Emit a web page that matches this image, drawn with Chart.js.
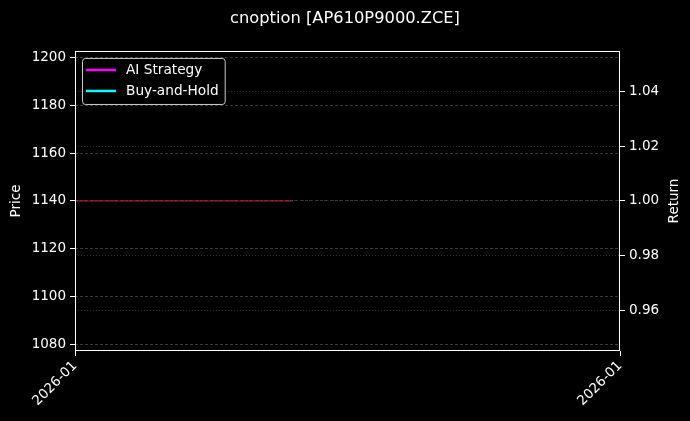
<!DOCTYPE html>
<html><head><meta charset="utf-8">
<script src="https://cdn.jsdelivr.net/npm/chart.js@4.4.1/dist/chart.umd.min.js"></script>
<style>html,body{margin:0;padding:0;background:#000;}#wrap{width:690px;height:421px;position:relative;}</style>
</head><body><div id="wrap"><canvas id="c" width="690" height="421"></canvas></div>
<script>
const chartTitle = 'cnoption [AP610P9000.ZCE]';
const xTickLabels = ['2026-01', '2026-01'];
const xDomain = [0, 5];
const priceX = [0, 2];
const priceValues = [1140, 1140];
const returnX = [0];
const strategyReturn = [1.0];
const buyHoldReturn = [1.0];
const priceRange = [1077.3, 1202.7];
const returnRange = [0.945, 1.055];
const priceTicks = [1080, 1100, 1120, 1140, 1160, 1180, 1200];
const returnTicks = [0.96, 0.98, 1.00, 1.02, 1.04];
const seriesNames = ['AI Strategy', 'Buy-and-Hold', 'Price'];
const axisTitles = ['Price', 'Return'];

const FONT = 'DejaVu Sans';
Chart.defaults.font.family = FONT;
Chart.defaults.color = '#ffffff';

const framePlugin = {
  id: 'frame',
  afterDraw(chart) {
    const {ctx, chartArea: a} = chart;
    ctx.save();
    ctx.strokeStyle = '#ffffff';
    ctx.lineWidth = 1;
    ctx.setLineDash([]);
    ctx.strokeRect(Math.round(a.left) + 0.5, Math.round(a.top) + 0.5, Math.round(a.right - a.left) - 1, Math.round(a.bottom - a.top) - 1);
    // right axis title, rotated like the left one (reads bottom to top)
    const s = chart.scales.y1;
    ctx.font = '13.5px "' + FONT + '"';
    ctx.fillStyle = '#ffffff';
    ctx.textAlign = 'center';
    ctx.textBaseline = 'middle';
    ctx.translate(s.right - 16, (a.top + a.bottom) / 2);
    ctx.rotate(-Math.PI / 2);
    ctx.fillText(axisTitles[1], 0, 0);
    ctx.restore();
  }
};

const innerLegend = {
  id: 'innerLegend',
  afterDraw(chart) {
    const {ctx, chartArea: a} = chart;
    const items = chart.data.datasets.filter(d => d.inLegend);
    ctx.save();
    ctx.font = '13.7px "' + FONT + '"';
    let tw = 0;
    items.forEach(d => { tw = Math.max(tw, ctx.measureText(d.label).width); });
    const x0 = a.left + 7, y0 = a.top + 7;
    const rowH = 21, lineLen = 30;
    const w = 4 + lineLen + 10 + tw + 6;
    const h = items.length * rowH + 4;
    ctx.beginPath();
    ctx.roundRect(x0 + 0.5, y0 + 0.5, w, h, 3);
    ctx.fillStyle = 'rgba(0,0,0,0.8)';
    ctx.fill();
    ctx.strokeStyle = '#cccccc';
    ctx.lineWidth = 1;
    ctx.stroke();
    items.forEach((d, i) => {
      const cy = y0 + 12 + i * rowH;
      ctx.beginPath();
      ctx.moveTo(x0 + 4, cy);
      ctx.lineTo(x0 + 4 + lineLen, cy);
      ctx.strokeStyle = d.borderColor;
      ctx.lineWidth = 2.5;
      ctx.stroke();
      ctx.fillStyle = '#ffffff';
      ctx.textBaseline = 'middle';
      ctx.textAlign = 'left';
      ctx.fillText(d.label, x0 + 4 + lineLen + 10, cy);
    });
    ctx.restore();
  }
};

const tickFont = {family: FONT, size: 13.5};

new Chart(document.getElementById('c'), {
  type: 'line',
  data: {
    datasets: [
      {label: seriesNames[0], inLegend: true, data: returnX.map((x, i) => ({x, y: strategyReturn[i]})), borderColor: '#ff00ff', borderWidth: 2, pointRadius: 0, yAxisID: 'y1'},
      {label: seriesNames[1], inLegend: true, data: returnX.map((x, i) => ({x, y: buyHoldReturn[i]})), borderColor: '#00ffff', borderWidth: 2, pointRadius: 0, yAxisID: 'y1'},
      {label: seriesNames[2], inLegend: false, data: priceX.map((x, i) => ({x, y: priceValues[i]})), borderColor: 'rgba(225,30,40,0.85)', borderWidth: 1, pointRadius: 0, yAxisID: 'y'}
    ]
  },
  options: {
    responsive: false,
    animation: false,
    devicePixelRatio: 1,
    layout: {padding: 0},
    plugins: {
      legend: {display: false},
      tooltip: {enabled: false},
      title: {display: true, text: chartTitle, color: '#ffffff', font: {family: FONT, size: 16.3, weight: 'normal'}, padding: {top: 9, bottom: 22.4}}
    },
    scales: {
      x: {
        type: 'linear', min: xDomain[0], max: xDomain[1],
        afterBuildTicks: s => { s.ticks = xDomain.map(v => ({value: v})); },
        afterFit: s => { s.height = 70; },
        ticks: {callback: (v, i) => xTickLabels[i], color: '#ffffff', font: tickFont, maxRotation: 45, minRotation: 45, padding: 2, autoSkip: false},
        grid: {drawOnChartArea: false, drawTicks: true, tickColor: '#ffffff', tickLength: 5, tickWidth: 1},
        border: {display: false}
      },
      y: {
        position: 'left', min: priceRange[0], max: priceRange[1],
        afterBuildTicks: s => { s.ticks = priceTicks.map(v => ({value: v})); },
        afterFit: s => { s.width = 75; },
        ticks: {callback: v => String(v), color: '#ffffff', font: tickFont, padding: 4},
        title: {display: true, text: axisTitles[0], color: '#ffffff', font: {family: FONT, size: 13.5}, padding: {top: 8, bottom: 0}},
        grid: {color: '#3a3a3a', lineWidth: 1, tickColor: '#ffffff', tickLength: 5, tickBorderDash: []},
        border: {display: false, dash: [3, 2]}
      },
      y1: {
        position: 'right', min: returnRange[0], max: returnRange[1],
        afterBuildTicks: s => { s.ticks = returnTicks.map(v => ({value: v})); },
        afterFit: s => { s.width = 70; },
        ticks: {callback: v => Number(v).toFixed(2), color: '#ffffff', font: tickFont, padding: 4},
        grid: {color: '#2c2c2c', lineWidth: 1, tickColor: '#ffffff', tickLength: 5, tickBorderDash: []},
        border: {display: false, dash: [1, 2]}
      }
    }
  },
  plugins: [framePlugin, innerLegend]
});
</script>
</body></html>
